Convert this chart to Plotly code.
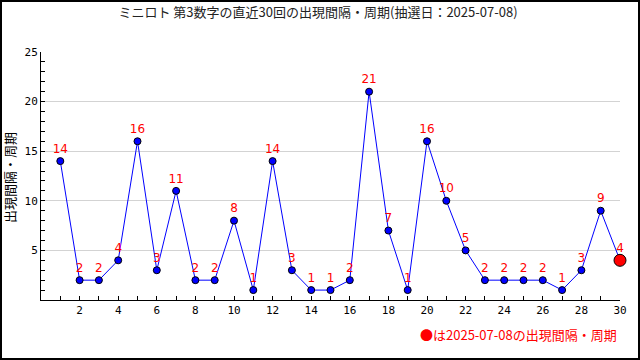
import plotly.graph_objects as go

draws = list(range(1, 31))
intervals = [14, 2, 2, 4, 16, 3, 11, 2, 2, 8, 1, 14, 3, 1, 1, 2, 21, 7, 1, 16, 10, 5, 2, 2, 2, 2, 1, 3, 9, 4]
title_text = "ミニロト 第3数字の直近30回の出現間隔・周期(抽選日：2025-07-08)"
y_title = "出現間隔・周期"
note_text = "●は2025-07-08の出現間隔・周期"

W, H = 640, 360
L, R, T, B = 41, 20, 52, 60
pw, ph = W - L - R, H - T - B

def px_x(x):
    return (x - L) / pw

def px_y(y):
    return (T + ph - y) / ph

fig = go.Figure()
fig.add_trace(go.Scatter(
    x=draws, y=intervals, mode="lines+markers+text",
    line=dict(color="#0000ff", width=1),
    marker=dict(color="#0000ff", size=7, line=dict(color="black", width=1)),
    text=[str(v) for v in intervals], textposition="top center",
    textfont=dict(color="#ff0000", size=12, family="DejaVu Sans"),
    cliponaxis=False, showlegend=False, hoverinfo="skip",
))
fig.add_trace(go.Scatter(
    x=draws[-1:], y=intervals[-1:], mode="markers",
    marker=dict(color="#ff0000", size=12, line=dict(color="black", width=1)),
    cliponaxis=False, showlegend=False, hoverinfo="skip",
))

fig.update_layout(
    width=W, height=H,
    margin=dict(l=L, r=R, t=T, b=B, autoexpand=False),
    paper_bgcolor="white", plot_bgcolor="white",
    title=dict(text=title_text, x=318 / W, xanchor="center", xref="container", y=1 - 12 / H, yanchor="middle",
               font=dict(size=13, color="#222222", family="Noto Sans CJK JP")),
    font=dict(family="DejaVu Sans Mono", size=11, color="black"),
    xaxis=dict(range=[0, 30], tickvals=list(range(2, 31, 2)), showgrid=False,
               showline=True, linecolor="black", linewidth=1,
               ticks="inside", ticklen=4, tickcolor="black",
               minor=dict(tickvals=list(range(1, 31)), ticks="inside", ticklen=4, tickcolor="black"),
               zeroline=False, tickfont=dict(size=11), automargin=False),
    yaxis=dict(range=[0, 25], tickvals=[5, 10, 15, 20, 25], showgrid=True,
               gridcolor="#d3d3d3", gridwidth=1,
               showline=True, linecolor="black", linewidth=1,
               ticks="inside", ticklen=4, tickcolor="black",
               minor=dict(tickvals=list(range(1, 26)), ticks="inside", ticklen=4, tickcolor="black"),
               zeroline=False, tickfont=dict(size=11), automargin=False),
    annotations=[
        dict(text=note_text, xref="paper", yref="paper",
             x=px_x(619), y=px_y(334), xanchor="right", yanchor="middle",
             showarrow=False, font=dict(color="#ff0000", size=13, family="Noto Sans CJK JP")),
        dict(text=y_title, xref="paper", yref="paper",
             x=px_x(9), y=px_y(178), xanchor="center", yanchor="middle", textangle=-90,
             showarrow=False, font=dict(color="black", size=13, family="Noto Sans CJK JP")),
    ],
    shapes=[dict(type="rect", xref="paper", yref="paper",
                 x0=px_x(1), x1=px_x(W - 1),
                 y0=px_y(H - 1), y1=px_y(1),
                 line=dict(color="black", width=2), fillcolor="rgba(0,0,0,0)", layer="above")],
)

fig.write_html("out.html", config={"displayModeBar": False},
               post_script="document.body.style.margin='0';document.body.style.overflow='hidden';")
